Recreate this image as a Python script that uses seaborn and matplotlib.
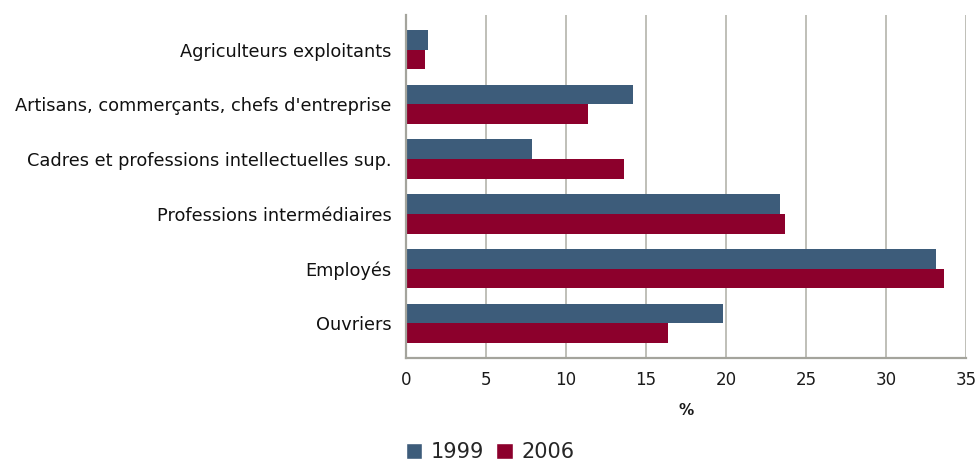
import matplotlib
matplotlib.use("Agg")
import matplotlib.pyplot as plt
import seaborn as sns
import pandas as pd
from matplotlib.patches import Patch

categories = ["Agriculteurs exploitants",
              "Artisans, commerçants, chefs d'entreprise",
              "Cadres et professions intellectuelles sup.",
              "Professions intermédiaires",
              "Employés",
              "Ouvriers"]
years = ["1999", "2006"]
values_1999 = [1.4, 14.2, 7.9, 23.4, 33.1, 19.8]
values_2006 = [1.2, 11.4, 13.6, 23.7, 33.6, 16.4]
xticks = [0, 5, 10, 15, 20, 25, 30, 35]
colors = ["#3d5c7a", "#8c002c"]

df = pd.DataFrame({
    "cat": categories * 2,
    "year": [years[0]] * len(categories) + [years[1]] * len(categories),
    "val": values_1999 + values_2006,
})

sns.set_theme(style="white")
plt.rcParams["font.family"] = ["DejaVu Sans"]

fig = plt.figure(figsize=(9.8, 4.61), dpi=100)
ax = fig.add_axes([0.414, 0.223, 0.572, 0.745])

sns.barplot(data=df, y="cat", x="val", hue="year", order=categories,
            hue_order=years, palette=colors, orient="h", width=0.72,
            saturation=1, ax=ax, legend=False, edgecolor="none")

ax.set_xlim(0, 35)
ax.set_ylim(5.64, -0.64)
ax.set_xticks(xticks)
ax.set_xticklabels([str(t) for t in xticks], fontsize=12, color="#1a1a1a")
ax.tick_params(axis="x", length=0, pad=9)
ax.tick_params(axis="y", length=0, pad=10, labelsize=12.8, labelcolor="#111111")
ax.set_ylabel("")
ax.set_xlabel("%", fontsize=11, fontweight="bold", labelpad=10, color="#1a1a1a")
ax.grid(axis="x", color="#b4b4ac", linewidth=1.2)
ax.set_axisbelow(True)
for s in ["top", "right"]:
    ax.spines[s].set_visible(False)
for s in ["left", "bottom"]:
    ax.spines[s].set_color("#a4a49c")
    ax.spines[s].set_linewidth(1.6)

handles = [Patch(facecolor=c, label=y) for c, y in zip(colors, years)]
fig.legend(handles=handles, loc="center", bbox_to_anchor=(0.5, 0.02),
           ncol=2, frameon=False, fontsize=15, handlelength=0.8,
           handleheight=0.8, handletextpad=0.4, columnspacing=0.6,
           borderpad=0)

fig.savefig("out.png", dpi=100, facecolor="white")
